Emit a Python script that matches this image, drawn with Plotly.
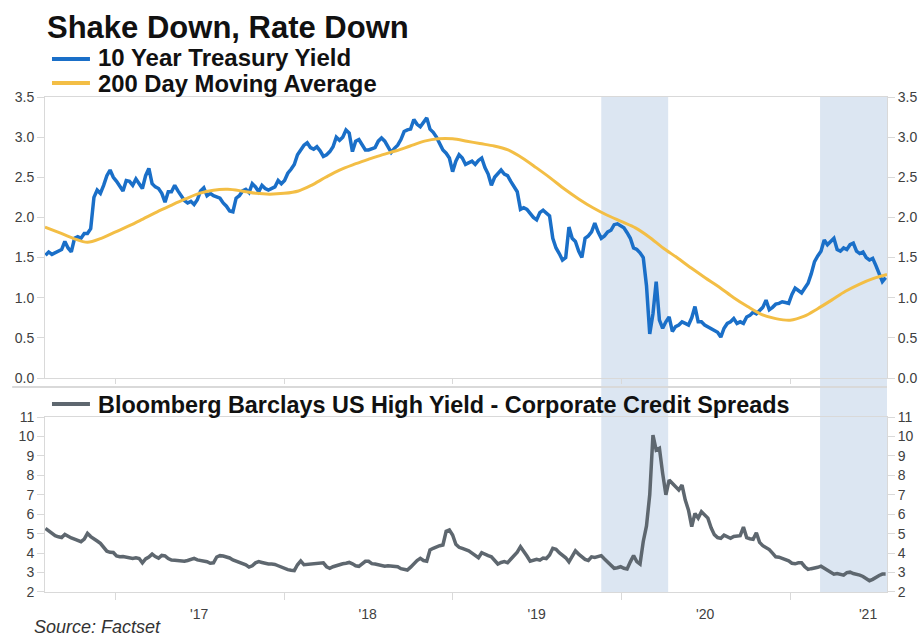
import pandas as pd
import plotly.graph_objects as go

# ---------------------------------------------------------------- data
# Weekly closes (Tuesdays) of the 10 year Treasury yield, %
treasury_yield = [
    # 2016 (Aug - Dec)
    1.53, 1.57, 1.54, 1.56, 1.58, 1.60, 1.70, 1.62, 1.57, 1.74, 1.76, 1.74, 1.80,
    1.80, 1.86, 2.25, 2.34, 2.30, 2.40, 2.52, 2.59, 2.50,
    # 2017
    2.45, 2.38, 2.33, 2.46, 2.45, 2.40, 2.48, 2.42, 2.36, 2.52, 2.61, 2.42, 2.38,
    2.36, 2.30, 2.19, 2.32, 2.32, 2.40, 2.33, 2.27, 2.21, 2.18, 2.20, 2.16, 2.22,
    2.33, 2.37, 2.27, 2.30, 2.27, 2.26, 2.24, 2.18, 2.14, 2.08, 2.07, 2.24, 2.27,
    2.33, 2.35, 2.31, 2.42, 2.38, 2.32, 2.40, 2.36, 2.34, 2.36, 2.38, 2.46, 2.42,
    # 2018
    2.46, 2.55, 2.60, 2.66, 2.78, 2.84, 2.90, 2.93, 2.87, 2.85, 2.88, 2.83, 2.76,
    2.78, 2.82, 2.88, 3.00, 2.96, 3.00, 3.09, 3.05, 2.82, 2.95, 2.97, 2.90, 2.84,
    2.84, 2.86, 2.87, 2.95, 2.99, 2.95, 2.87, 2.81, 2.86, 2.90, 2.97, 3.07, 3.09,
    3.10, 3.22, 3.16, 3.13, 3.18, 3.24, 3.10, 3.06, 3.00, 2.92, 2.84, 2.80, 2.74,
    # 2019
    2.57, 2.70, 2.78, 2.74, 2.66, 2.68, 2.70, 2.66, 2.71, 2.74, 2.62, 2.54, 2.40,
    2.50, 2.55, 2.59, 2.54, 2.52, 2.45, 2.38, 2.32, 2.10, 2.12, 2.10, 2.05, 2.00,
    1.97, 2.06, 2.09, 2.06, 2.02, 1.74, 1.62, 1.55, 1.47, 1.50, 1.88, 1.74, 1.70,
    1.58, 1.50, 1.74, 1.77, 1.82, 1.93, 1.82, 1.74, 1.77, 1.82, 1.84, 1.91, 1.92, 1.89,
    # 2020
    1.87, 1.81, 1.74, 1.62, 1.60, 1.56, 1.50, 1.15, 0.55, 0.80, 1.20, 0.72, 0.62,
    0.70, 0.76, 0.58, 0.64, 0.66, 0.70, 0.68, 0.66, 0.75, 0.89, 0.70, 0.70, 0.66,
    0.64, 0.62, 0.60, 0.57, 0.51, 0.62, 0.68, 0.70, 0.74, 0.68, 0.70, 0.68, 0.76,
    0.78, 0.82, 0.80, 0.84, 0.88, 0.97, 0.85, 0.88, 0.92, 0.93, 0.95, 0.94, 0.93,
    # 2021 (Jan - Jul)
    1.04, 1.12, 1.09, 1.06, 1.12, 1.18, 1.30, 1.45, 1.52, 1.58, 1.72, 1.66, 1.70,
    1.74, 1.60, 1.58, 1.62, 1.60, 1.66, 1.68, 1.58, 1.55, 1.57, 1.50, 1.47, 1.49,
    1.40, 1.30, 1.20, 1.25,
]

# Weekly Bloomberg Barclays US High Yield corporate spread, %
credit_spread = [
    # 2016 (Aug - Dec)
    5.27, 5.15, 5.00, 4.90, 4.84, 4.80, 4.96, 4.86, 4.78, 4.72, 4.65, 4.59, 4.72,
    5.02, 4.85, 4.76, 4.62, 4.50, 4.30, 4.10, 4.04, 4.03,
    # 2017
    3.85, 3.81, 3.82, 3.78, 3.75, 3.73, 3.76, 3.72, 3.50, 3.70, 3.80, 3.95, 3.82,
    3.74, 3.88, 3.86, 3.72, 3.64, 3.63, 3.62, 3.60, 3.58, 3.62, 3.66, 3.73, 3.65,
    3.62, 3.58, 3.56, 3.48, 3.50, 3.80, 3.87, 3.85, 3.82, 3.75, 3.65, 3.58, 3.50,
    3.45, 3.40, 3.28, 3.35, 3.50, 3.56, 3.52, 3.46, 3.44, 3.44, 3.42, 3.35, 3.28,
    # 2018
    3.18, 3.15, 3.12, 3.10, 3.40, 3.60, 3.40, 3.42, 3.45, 3.44, 3.48, 3.52, 3.50,
    3.30, 3.22, 3.30, 3.36, 3.42, 3.45, 3.48, 3.52, 3.45, 3.35, 3.32, 3.45, 3.58,
    3.58, 3.46, 3.44, 3.40, 3.35, 3.33, 3.35, 3.34, 3.33, 3.30, 3.20, 3.16, 3.13,
    3.28, 3.46, 3.62, 3.73, 3.62, 3.58, 4.16, 4.25, 4.33, 4.38, 4.42, 5.12, 5.19,
    # 2019
    4.93, 4.45, 4.30, 4.24, 4.18, 4.12, 4.00, 3.85, 3.76, 4.02, 3.92, 3.87, 3.81,
    3.60, 3.44, 3.52, 3.56, 3.51, 3.70, 3.84, 4.05, 4.33, 4.05, 3.85, 3.58, 3.62,
    3.68, 3.64, 3.75, 3.72, 3.90, 4.25, 4.20, 4.02, 3.90, 3.76, 3.55, 3.80, 4.12,
    3.95, 3.81, 3.68, 3.62, 3.81, 3.78, 3.83, 3.87, 3.70, 3.52, 3.35, 3.22, 3.25, 3.30,
    # 2020
    3.22, 3.18, 3.55, 3.88, 3.56, 3.44, 4.60, 5.40, 7.00, 10.07, 9.30, 9.39, 8.10,
    7.00, 7.76, 7.60, 7.40, 7.25, 7.50, 6.73, 6.21, 5.36, 6.04, 5.80, 6.13, 5.95,
    5.80, 5.30, 4.95, 4.80, 4.76, 4.92, 4.85, 4.76, 4.86, 4.88, 4.90, 5.34, 4.80,
    4.74, 4.71, 5.05, 4.55, 4.38, 4.28, 4.18, 4.00, 3.81, 3.79, 3.74, 3.68, 3.60,
    # 2021 (Jan - Jul)
    3.48, 3.45, 3.50, 3.50, 3.30, 3.16, 3.20, 3.22, 3.27, 3.33, 3.22, 3.12, 3.00,
    2.92, 2.95, 2.92, 2.87, 3.00, 3.02, 2.95, 2.92, 2.87, 2.80, 2.68, 2.58, 2.65,
    2.76, 2.85, 2.92, 2.92,
]

# 200 day moving average of the 10 year yield, sampled monthly
ma_dates = list(pd.date_range("2016-08-01", "2021-07-01", freq="MS").strftime("%Y-%m-%d")) + ["2021-07-30"]
ma_values = [
    1.88, 1.81, 1.74, 1.69, 1.74,                                            # 2016
    1.82, 1.90, 1.98, 2.07, 2.15, 2.23, 2.30, 2.34, 2.35, 2.33, 2.30, 2.29,  # 2017
    2.30, 2.33, 2.40, 2.50, 2.59, 2.66, 2.72, 2.78, 2.83, 2.89, 2.95, 2.98,  # 2018
    2.98, 2.95, 2.92, 2.89, 2.84, 2.74, 2.62, 2.49, 2.35, 2.23, 2.12, 2.03,  # 2019
    1.95, 1.87, 1.76, 1.62, 1.50, 1.37, 1.25, 1.13, 1.00, 0.89, 0.79, 0.74,  # 2020
    0.72, 0.77, 0.86, 0.97, 1.08, 1.17, 1.24, 1.29,                          # 2021
]

week_dates = pd.date_range("2016-08-02", periods=len(treasury_yield), freq="7D")

x_start, x_end = "2016-08-01", "2021-07-30"
year_labels = ["'17", "'18", "'19", "'20", "'21"]
year_label_dates = ["2017-07-01", "2018-07-01", "2019-07-02", "2020-07-01", "2021-06-19"]
year_starts = ["2017-01-01", "2018-01-01", "2019-01-01", "2020-01-01", "2021-01-01"]

shaded_periods = [("2019-11-19", "2020-04-12"), ("2021-03-07", x_end)]

# ---------------------------------------------------------------- style
FONT = "Liberation Sans, Arial, sans-serif"
BLUE = "#1a6fc8"
GOLD = "#f3be45"
GREY = "#5e676f"
SHADE = "#dce6f2"
AXIS = "#d9d9d9"
TICK_TXT = "#404040"

TOP_DOMAIN = [0.4323, 1.0]
BOTTOM_DOMAIN = [0.0, 0.3535]

fig = go.Figure()

fig.add_trace(go.Scatter(
    x=week_dates, y=treasury_yield, xaxis="x2", yaxis="y", mode="lines",
    name="10 Year Treasury Yield", line=dict(color=BLUE, width=3.5),
    showlegend=False,
))
fig.add_trace(go.Scatter(
    x=ma_dates, y=ma_values, xaxis="x2", yaxis="y", mode="lines",
    name="200 Day Moving Average",
    line=dict(color=GOLD, width=3, shape="spline", smoothing=0.9),
    showlegend=False,
))
fig.add_trace(go.Scatter(
    x=week_dates, y=credit_spread, xaxis="x", yaxis="y2", mode="lines",
    name="Bloomberg Barclays US High Yield - Corporate Credit Spreads",
    line=dict(color=GREY, width=3.5), showlegend=False,
))
# invisible anchors so the right-hand value axes are drawn
fig.add_trace(go.Scatter(x=[week_dates[0]], y=[treasury_yield[0]], xaxis="x2", yaxis="y3",
                         mode="markers", marker=dict(opacity=0), hoverinfo="skip", showlegend=False))
fig.add_trace(go.Scatter(x=[week_dates[0]], y=[credit_spread[0]], xaxis="x", yaxis="y4",
                         mode="markers", marker=dict(opacity=0), hoverinfo="skip", showlegend=False))

tickfont = dict(family=FONT, size=14, color=TICK_TXT)

def value_axis(domain, rng, vals, fmt, anchor, **extra):
    d = dict(domain=domain, range=rng, tickmode="array", tickvals=vals, tickformat=fmt,
             ticks="outside", ticklen=7, tickcolor=AXIS, tickfont=tickfont,
             showgrid=False, zeroline=False, anchor=anchor, automargin=False)
    d.update(extra)
    return d

top_vals = [0, 0.5, 1.0, 1.5, 2.0, 2.5, 3.0, 3.5]
bottom_vals = list(range(2, 12))

time_common = dict(type="date", range=[x_start, x_end], showgrid=False, zeroline=False,
                   showline=True, linecolor=AXIS, linewidth=1, mirror=True, automargin=False)

fig.update_layout(
    width=922, height=638,
    margin=dict(l=45, r=35, t=97, b=46, autoexpand=False),
    paper_bgcolor="white", plot_bgcolor="white",
    showlegend=False,
    xaxis=dict(
        domain=[0, 1], anchor="y2", **time_common,
        tickmode="array", tickvals=year_label_dates, ticktext=year_labels,
        ticks="outside", ticklen=9, tickcolor="rgba(0,0,0,0)", tickfont=tickfont,
        minor=dict(tickmode="array", tickvals=year_starts, ticks="outside",
                   ticklen=7, tickcolor=AXIS, showgrid=False),
    ),
    xaxis2=dict(
        domain=[0, 1], anchor="y", matches="x", **time_common,
        showticklabels=False, ticks="",
        minor=dict(tickmode="array", tickvals=year_starts, ticks="outside",
                   ticklen=5, tickcolor=AXIS, showgrid=False),
    ),
    yaxis=value_axis(TOP_DOMAIN, [0, 3.5], top_vals, ".1f", "x2",
                     showline=True, linecolor=AXIS, mirror=True),
    yaxis3=value_axis(TOP_DOMAIN, [0, 3.5], top_vals, ".1f", "x2",
                      overlaying="y", side="right", showline=False),
    yaxis2=value_axis(BOTTOM_DOMAIN, [2, 11], bottom_vals, "d", "x",
                      showline=True, linecolor=AXIS, mirror=True),
    yaxis4=value_axis(BOTTOM_DOMAIN, [2, 11], bottom_vals, "d", "x",
                      overlaying="y2", side="right", showline=False),
)

# shaded periods spanning both panels
for start, end in shaded_periods:
    fig.add_shape(type="rect", xref="x", yref="paper", x0=start, x1=end, y0=0, y1=1,
                  fillcolor=SHADE, line=dict(width=0), layer="below")

# divider between the two panels
fig.add_shape(type="line", xref="paper", yref="paper", x0=-0.039, x1=1, y0=0.4141, y1=0.4141,
              line=dict(color=AXIS, width=2))

# title and key
def key_row(color, y_line, y_text, text, size):
    fig.add_shape(type="line", xref="paper", yref="paper", x0=0.0083, x1=0.0534,
                  y0=y_line, y1=y_line, line=dict(color=color, width=4))
    fig.add_annotation(xref="paper", yref="paper", x=0.0610, y=y_text, xanchor="left",
                       yanchor="middle", showarrow=False, text=f"<b>{text}</b>",
                       font=dict(family=FONT, size=size, color="#111111"))

fig.add_annotation(xref="paper", yref="paper", x=0.0, y=1.1394, xanchor="left", yanchor="middle",
                   showarrow=False, text="<b>Shake Down, Rate Down</b>",
                   font=dict(family=FONT, size=31, color="#111111"))
key_row(BLUE, 1.0768, 1.0808, "10 Year Treasury Yield", 24)
key_row(GOLD, 1.0283, 1.0263, "200 Day Moving Average", 23.8)
key_row(GREY, 0.3798, 0.3768, "Bloomberg Barclays US High Yield - Corporate Credit Spreads", 23.4)

fig.add_annotation(xref="paper", yref="paper", x=-0.0154, y=-0.0700, xanchor="left", yanchor="middle",
                   showarrow=False, text="<i>Source: Factset</i>",
                   font=dict(family=FONT, size=18, color="#333333"))

fig.write_html("out.html")
